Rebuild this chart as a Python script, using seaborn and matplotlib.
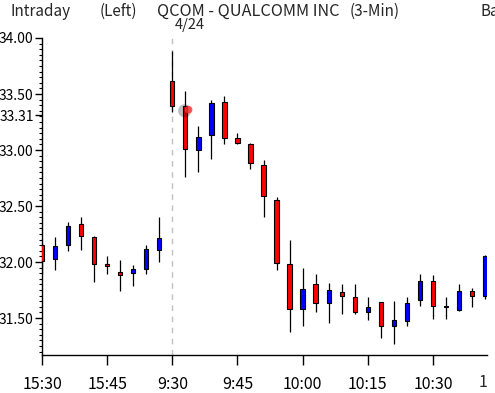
import numpy as np
import pandas as pd
import matplotlib
matplotlib.use("Agg")
import matplotlib.pyplot as plt
from matplotlib.ticker import MultipleLocator
from matplotlib.transforms import Bbox, TransformedBbox
import seaborn as sns

# 3-minute bars: last ten of 4/23 then 4/24 from the open
bar_times = ["15:30", "15:33", "15:36", "15:39", "15:42", "15:45", "15:48", "15:51", "15:54", "15:57",
             "9:30", "9:33", "9:36", "9:39", "9:42", "9:45", "9:48", "9:51", "9:54", "9:57",
             "10:00", "10:03", "10:06", "10:09", "10:12", "10:15", "10:18", "10:21", "10:24", "10:27",
             "10:30", "10:33", "10:36", "10:39", "10:42"]
opens = [32.15, 32.03, 32.15, 32.34, 32.22, 31.98, 31.91, 31.90, 31.94, 32.11,
         33.62, 33.39, 33.00, 33.13, 33.43, 33.11, 33.05, 32.87, 32.55, 31.98,
         31.585, 31.80, 31.63, 31.735, 31.69, 31.55, 31.64, 31.43, 31.47, 31.665,
         31.83, 31.595, 31.57, 31.745, 31.70]
highs = [32.17, 32.22, 32.36, 32.40, 32.23, 32.05, 32.02, 31.97, 32.155, 32.40,
         33.88, 33.53, 33.21, 33.45, 33.48, 33.15, 33.06, 32.91, 32.58, 32.20,
         31.95, 31.89, 31.81, 31.80, 31.80, 31.69, 31.64, 31.65, 31.69, 31.89,
         31.88, 31.69, 31.80, 31.77, 32.06]
lows = [31.89, 31.93, 32.10, 32.11, 31.82, 31.89, 31.74, 31.79, 31.89, 32.00,
        33.335, 32.76, 32.80, 32.92, 33.05, 33.05, 32.83, 32.40, 31.93, 31.375,
        31.43, 31.55, 31.455, 31.535, 31.54, 31.48, 31.325, 31.27, 31.43, 31.61,
        31.49, 31.49, 31.56, 31.60, 31.67]
closes = [32.01, 32.14, 32.32, 32.23, 31.98, 31.965, 31.88, 31.94, 32.12, 32.215,
          33.39, 33.005, 33.12, 33.42, 33.11, 33.06, 32.88, 32.59, 31.99, 31.58,
          31.76, 31.63, 31.75, 31.70, 31.55, 31.60, 31.43, 31.485, 31.63, 31.83,
          31.61, 31.595, 31.745, 31.70, 32.055]

tick_labels = ["15:30", "15:45", "9:30", "9:45", "10:00", "10:15", "10:30", "10:45"]
ytick_values = [34.00, 33.50, 33.31, 33.00, 32.50, 32.00, 31.50]
session_start = "9:30"
cursor_price = 33.35
cursor_time = "9:33"

df = pd.DataFrame({"time": bar_times, "open": opens, "high": highs,
                   "low": lows, "close": closes})
df["pos"] = np.arange(len(df))
df["up"] = df["close"] >= df["open"]

sns.set_style("ticks")
plt.rcParams["font.family"] = ["Noto Sans CJK JP", "DejaVu Sans"]

fig = plt.figure(figsize=(4.95, 3.93), dpi=100)
ax = fig.add_axes([42 / 495, 38 / 393, 445 / 495, 317 / 393])

x0 = bar_times.index(session_start)
ax.axvline(x0, color="#c0c0c0", lw=1, ls=(0, (4, 4)), zorder=0)

# wicks and bodies
ax.vlines(df["pos"], df["low"], df["high"], color="black", lw=0.9, zorder=2)
body_bottom = df[["open", "close"]].min(axis=1)
body_h = (df["close"] - df["open"]).abs().clip(lower=0.008)
colors = np.where(df["up"], "#0000ff", "#ff0000")
ax.bar(df["pos"], body_h, bottom=body_bottom, width=0.33, color=colors,
       edgecolor="black", linewidth=0.8, zorder=3)

# cursor glow
cx = bar_times.index(cursor_time)
sns.scatterplot(x=[cx - 0.05], y=[cursor_price], ax=ax, s=90, color="black",
                alpha=0.25, edgecolor="none", zorder=4, legend=False)
sns.scatterplot(x=[cx + 0.25], y=[cursor_price + 0.01], ax=ax, s=30, color="#ff3030",
                alpha=0.8, edgecolor="none", zorder=5, legend=False)

ax.set_xlim(0, 34.15)
ax.set_ylim(31.17, 34.0)

tick_pos = [bar_times.index(t) if t in bar_times else len(bar_times) for t in tick_labels]
ax.set_xticks(tick_pos[:-1])
ax.set_xticklabels(tick_labels[:-1])
ax.set_yticks(ytick_values)
ax.set_yticklabels([f"{v:.2f}" for v in ytick_values])
ax.yaxis.set_minor_locator(MultipleLocator(0.05))

ax.tick_params(axis="y", which="major", length=5, width=1, color="black",
               labelsize=10, pad=1, labelcolor="black")
ax.tick_params(axis="y", which="minor", length=2.5, width=0.8, color="black")
ax.tick_params(axis="x", which="major", length=7, width=1, color="black",
               labelsize=11.5, pad=8, labelcolor="black")
sns.despine(ax=ax)
for s in ["left", "bottom"]:
    ax.spines[s].set_color("black")
    ax.spines[s].set_linewidth(1)

# last tick label, cut at the plot's right edge
t = ax.text(tick_pos[-1], -0.06, tick_labels[-1], transform=ax.get_xaxis_transform(),
            ha="center", va="top", fontsize=11.5, clip_on=True)
t.set_clip_box(TransformedBbox(Bbox([[0, 0], [487 / 495, 1]]), fig.transFigure))

ax.annotate("4/24", xy=(x0, 1), xycoords=("data", "axes fraction"),
            xytext=(2, 4), textcoords="offset points", ha="left", va="bottom", fontsize=10.5)

fig.text(10 / 495, 1 - 11 / 393, "Intraday", fontsize=11, va="center")
fig.text(100 / 495, 1 - 11 / 393, "(Left)", fontsize=11, va="center")
fig.text(157 / 495, 1 - 11 / 393, "QCOM - QUALCOMM INC", fontsize=11.7, va="center")
fig.text(350 / 495, 1 - 11 / 393, "(3-Min)", fontsize=11, va="center")
fig.text(480 / 495, 1 - 11 / 393, "Bar", fontsize=11, va="center")

fig.savefig("out.png", dpi=100)
